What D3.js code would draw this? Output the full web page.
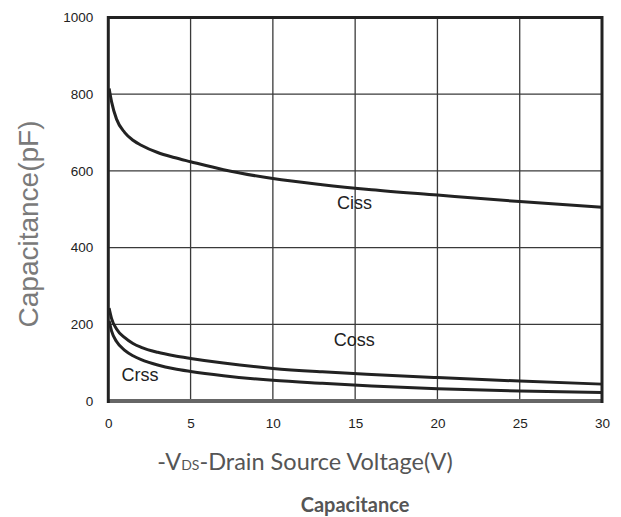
<!DOCTYPE html>
<html>
<head>
<meta charset="utf-8">
<script src="https://cdn.jsdelivr.net/npm/d3@7"></script>
<style>
  html, body { margin: 0; padding: 0; background: #fff; }
  svg { display: block; }
</style>
</head>
<body>
<svg id="chart" width="621" height="517"></svg>
<script>
// Drain-source voltage samples (V)
const vds  = [0.05, 0.2, 0.5, 1, 1.5, 2, 3, 4, 5, 7, 10, 13, 16, 20, 25, 30];
// Capacitance curves (pF)
const ciss = [815, 780, 735, 700, 680, 667, 648, 635, 624, 603, 580, 564, 551, 537, 520, 505];
const coss = [242, 215, 188, 165, 150, 140, 127, 118, 111, 99, 85, 76, 69, 61, 52, 44];
const crss = [209, 182, 155, 132, 118, 108, 94, 84, 77, 66, 54, 46, 39, 32, 26, 22];

const xTicks = [0, 5, 10, 15, 20, 25, 30];
const yTicks = [0, 200, 400, 600, 800, 1000];

const seriesNames = ["Ciss", "Coss", "Crss"];
const seriesValues = [ciss, coss, crss];
// Curve labels anchored in data units: [V, pF]
const labelAnchors = [[13.9, 500], [13.7, 143], [0.8, 53]];

const svg = d3.select("#chart");
const plotLeft = 108.3, plotRight = 602, plotTop = 17.5, plotBottom = 401;

const x = d3.scaleLinear().domain([0, 30]).range([plotLeft, plotRight]);
const y = d3.scaleLinear().domain([0, 1000]).range([plotBottom, plotTop]);

// Grid
const grid = svg.append("g");
grid.selectAll("line.v").data(xTicks.slice(1, -1)).join("line")
  .attr("x1", d => x(d)).attr("x2", d => x(d))
  .attr("y1", plotTop).attr("y2", plotBottom)
  .attr("stroke", "#3a3a3a").attr("stroke-width", 1.3);
grid.selectAll("line.h").data(yTicks.slice(1, -1)).join("line")
  .attr("y1", d => y(d)).attr("y2", d => y(d))
  .attr("x1", plotLeft).attr("x2", plotRight)
  .attr("stroke", "#3a3a3a").attr("stroke-width", 1.3);

// Curves
const line = d3.line()
  .x((d, i) => x(vds[i]))
  .y(d => y(d))
  .curve(d3.curveMonotoneX);

svg.append("g").selectAll("path").data(seriesValues).join("path")
  .attr("d", d => line(d))
  .attr("fill", "none")
  .attr("stroke", "#222")
  .attr("stroke-width", 3);

// Frame
svg.append("line").attr("x1", plotLeft).attr("x2", plotRight).attr("y1", plotBottom).attr("y2", plotBottom)
  .attr("stroke", "#666").attr("stroke-width", 4);
svg.append("line").attr("x1", plotLeft).attr("x2", plotRight).attr("y1", plotTop).attr("y2", plotTop)
  .attr("stroke", "#222").attr("stroke-width", 3);
svg.append("line").attr("x1", plotLeft).attr("x2", plotLeft).attr("y1", plotTop - 1.5).attr("y2", plotBottom + 2)
  .attr("stroke", "#222").attr("stroke-width", 3);
svg.append("line").attr("x1", plotRight).attr("x2", plotRight).attr("y1", plotTop - 1.5).attr("y2", plotBottom + 2)
  .attr("stroke", "#222").attr("stroke-width", 3);

// Axes (labels only)
const xAxis = d3.axisBottom(x).tickValues(xTicks).tickSize(0).tickPadding(0).tickFormat(d3.format("d"));
const gx = svg.append("g").attr("transform", `translate(0,${plotBottom + 17})`).call(xAxis);
gx.select(".domain").remove();
gx.selectAll("text").attr("font-family", "Liberation Sans, Arial, sans-serif")
  .attr("font-size", 13.5).attr("fill", "#222").attr("dy", "0.71em");

const yAxis = d3.axisLeft(y).tickValues(yTicks).tickSize(0).tickPadding(0).tickFormat(d3.format("d"));
const gy = svg.append("g").attr("transform", `translate(${plotLeft - 15},0)`).call(yAxis);
gy.select(".domain").remove();
gy.selectAll("text").attr("font-family", "Liberation Sans, Arial, sans-serif")
  .attr("font-size", 13.5).attr("fill", "#222");

// Curve labels
svg.append("g").selectAll("text").data(seriesNames).join("text")
  .attr("x", (d, i) => x(labelAnchors[i][0]))
  .attr("y", (d, i) => y(labelAnchors[i][1]))
  .attr("font-family", "Liberation Sans, Arial, sans-serif")
  .attr("font-size", 18)
  .attr("fill", "#222")
  .text(d => d);

// Y axis title
svg.append("text")
  .attr("transform", "translate(38,224) rotate(-90)")
  .attr("text-anchor", "middle")
  .attr("font-family", "Liberation Sans, Arial, sans-serif")
  .attr("font-size", 28)
  .attr("fill", "#7a7a7a")
  .text("Capacitance(pF)");

// X axis title with small-caps subscript
const xt = svg.append("text")
  .attr("x", 305).attr("y", 470)
  .attr("text-anchor", "middle")
  .attr("font-family", "Lato, Open Sans, sans-serif")
  .attr("font-size", 23.5)
  .attr("fill", "#555");
xt.append("tspan").text("-V");
xt.append("tspan").attr("font-size", 14).text("DS");
xt.append("tspan").text("-Drain Source Voltage(V)");

// Chart caption
svg.append("text")
  .attr("x", 355).attr("y", 512)
  .attr("text-anchor", "middle")
  .attr("font-family", "Lato, Open Sans, sans-serif")
  .attr("font-weight", "bold")
  .attr("font-size", 20)
  .attr("fill", "#555")
  .text("Capacitance");
</script>
</body>
</html>
